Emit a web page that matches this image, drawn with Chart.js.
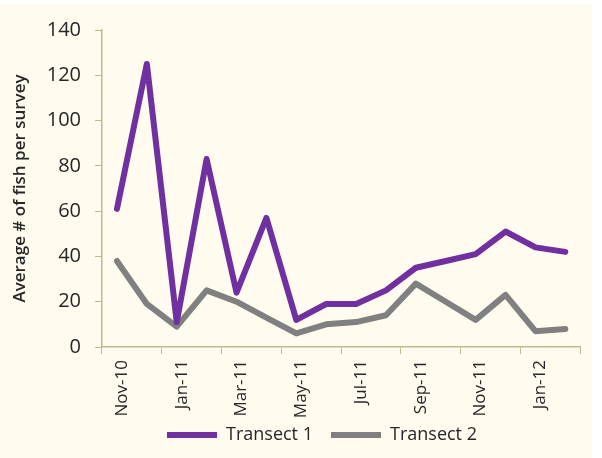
<!DOCTYPE html>
<html>
<head>
<meta charset="utf-8">
<script src="https://cdn.jsdelivr.net/npm/chart.js@4.4.1/dist/chart.umd.min.js"></script>
<style>
  html, body { margin: 0; padding: 0; background: #ffffff; }
  #wrap { position: absolute; left: 0; top: 4px; width: 592px; height: 454px; background: #fffcef; }
</style>
</head>
<body>
<div id="wrap"><canvas id="fishChart" width="592" height="454"></canvas></div>
<script>
// monthly survey averages, Nov 2010 - Feb 2012
const months = ['Nov-10', 'Dec-10', 'Jan-11', 'Feb-11', 'Mar-11', 'Apr-11', 'May-11', 'Jun-11',
  'Jul-11', 'Aug-11', 'Sep-11', 'Oct-11', 'Nov-11', 'Dec-11', 'Jan-12', 'Feb-12'];
const transect1 = [61, 125, 11, 83, 24, 57, 12, 19, 19, 25, 35, 38, 41, 51, 44, 42];
const transect2 = [38, 19, 9, 25, 20, 13, 6, 10, 11, 14, 28, 20, 12, 23, 7, 8];
const yTicks = [0, 20, 40, 60, 80, 100, 120, 140];

const axisColor = '#bfb98c';
const textColor = '#262626';
const fontFamily = '"Open Sans", Lato, sans-serif';

// nudge the legend a bit right and up after layout
const legendNudge = {
  id: 'legendNudge',
  afterLayout(chart, args, opts) {
    const lg = chart.legend;
    lg.left += opts.dx; lg.right += opts.dx;
    lg.top += opts.dy; lg.bottom += opts.dy;
  }
};

const ctx = document.getElementById('fishChart');

new Chart(ctx, {
  type: 'line',
  data: {
    labels: months,
    datasets: [
      {
        label: 'Transect 1',
        data: transect1,
        borderColor: '#7030a0',
        backgroundColor: '#7030a0',
        borderWidth: 6,
        borderCapStyle: 'round',
        borderJoinStyle: 'round',
        pointRadius: 0,
        tension: 0
      },
      {
        label: 'Transect 2',
        data: transect2,
        borderColor: '#808080',
        backgroundColor: '#808080',
        borderWidth: 6,
        borderCapStyle: 'round',
        borderJoinStyle: 'round',
        pointRadius: 0,
        tension: 0
      }
    ]
  },
  options: {
    responsive: false,
    animation: false,
    layout: { padding: { top: 14, right: 9, left: 5, bottom: 0 } },
    plugins: {
      legendNudge: { dx: 28, dy: -15 },
      legend: {
        position: 'bottom',
        maxHeight: 35,
        labels: {
          usePointStyle: true,
          pointStyle: 'line',
          pointStyleWidth: 50,
          boxHeight: 6,
          padding: 18,
          color: textColor,
          font: { family: fontFamily, size: 18 }
        }
      },
      tooltip: { enabled: false }
    },
    scales: {
      x: {
        offset: true,
        afterFit: (scale) => { scale.height = 76; },
        grid: {
          offset: true,
          drawOnChartArea: false,
          tickLength: 7,
          // tick marks only every second month, plus the closing one
          color: (c) => (c.index === undefined || c.index % 2 === 0) ? axisColor : 'rgba(0,0,0,0)'
        },
        border: { color: axisColor, width: 1.5 },
        ticks: {
          autoSkip: false,
          maxRotation: 90,
          minRotation: 90,
          padding: 6,
          labelOffset: 5,
          color: textColor,
          font: { family: fontFamily, size: 17 },
          callback: function (value, index) {
            return index % 2 === 0 ? this.getLabelForValue(value) : '';
          }
        }
      },
      y: {
        min: 0,
        max: 140,
        afterBuildTicks: (scale) => { scale.ticks = yTicks.map(v => ({ value: v })); },
        afterFit: (scale) => { scale.width = 97; },
        grid: { drawOnChartArea: false, tickLength: 7, color: axisColor },
        border: { color: axisColor, width: 1.5 },
        ticks: {
          padding: 14,
          color: textColor,
          font: { family: fontFamily, size: 20 }
        },
        title: {
          display: true,
          text: 'Average # of fish per survey',
          color: textColor,
          padding: { top: 5, bottom: 8 },
          font: { family: fontFamily, size: 17, weight: '600' }
        }
      }
    }
  },
  plugins: [legendNudge]
});
</script>
</body>
</html>
